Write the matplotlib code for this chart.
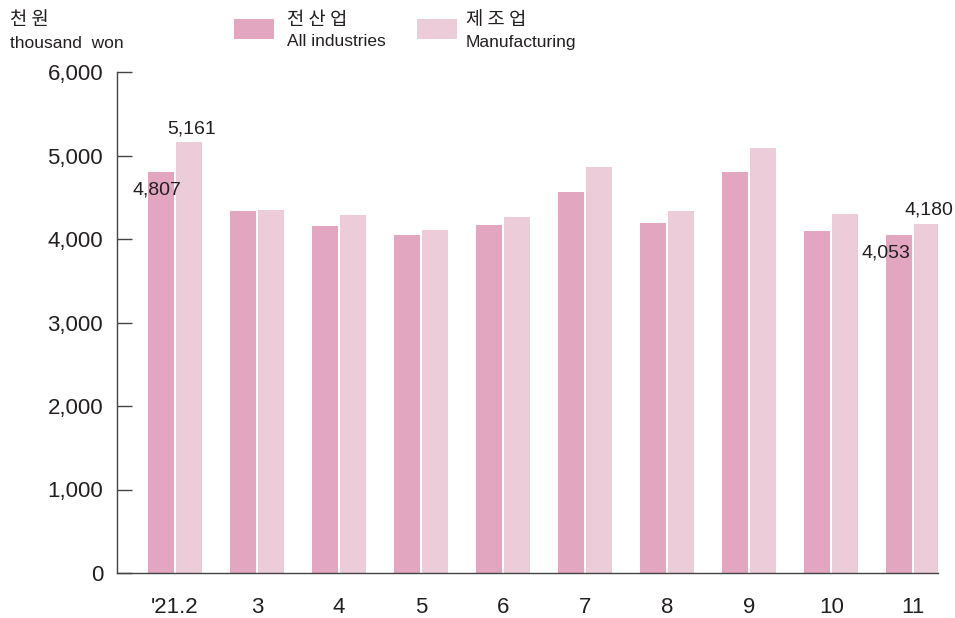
import numpy as np
import matplotlib.pyplot as plt
from matplotlib.patches import Rectangle
from matplotlib import font_manager

# 데이터
months = ["'21.2", "3", "4", "5", "6", "7", "8", "9", "10", "11"]
all_ind = [4807, 4335, 4156, 4048, 4168, 4563, 4192, 4802, 4096, 4053]
manuf = [5161, 4347, 4287, 4108, 4263, 4862, 4335, 5090, 4299, 4180]

c_all = "#E3A6C0"
c_man = "#EDCCD9"

names = {f.name for f in font_manager.fontManager.ttflist}
latin = "Liberation Sans Narrow" if "Liberation Sans Narrow" in names else "Liberation Sans"
plt.rcParams['font.family'] = [latin, 'Noto Sans CJK KR', 'DejaVu Sans']
txt = "#231F20"

fig = plt.figure(figsize=(9.55, 6.18), dpi=100)
ax = fig.add_axes([117/955, 1-573/618, (938-117)/955, (573-72)/618])

x = np.arange(len(months))
w = 0.317
off = 0.171
ax.bar(x - off, all_ind, w, color=c_all, linewidth=0)
ax.bar(x + off, manuf, w, color=c_man, linewidth=0)

ax.set_xlim(-0.707, 9.30)
ax.set_ylim(0, 6000)
ax.set_yticks(range(0, 6001, 1000))
ax.set_yticklabels([f"{v:,}" for v in range(0, 6001, 1000)], fontsize=16, color=txt)
ax.set_xticks(x)
ax.set_xticklabels(months, fontsize=16, color=txt)
ax.tick_params(axis='y', direction='in', length=11, width=1, color="#444444", pad=10)
ax.tick_params(axis='x', length=0, pad=17)
for s in ['top', 'right']:
    ax.spines[s].set_visible(False)
for s in ['left', 'bottom']:
    ax.spines[s].set_color("#444444")
    ax.spines[s].set_linewidth(1)

# 값 표시
ax.text(0.2, 5317, f"{manuf[0]:,}", ha='center', va='center', fontsize=14, color=txt)
ax.text(-0.22, 4587, f"{all_ind[0]:,}", ha='center', va='center', fontsize=14, color=txt)
ax.text(9.19, 4347, f"{manuf[9]:,}", ha='center', va='center', fontsize=14, color=txt)
ax.text(8.66, 3832, f"{all_ind[9]:,}", ha='center', va='center', fontsize=14, color=txt)

# 단위
fig.text(10/955, 1-19/618, "천 원", fontsize=13.5, color=txt, va='center', family=['Noto Sans CJK KR'])
fig.text(10/955, 1-44/618, "thousand  won", fontsize=12.5, color=txt, va='center')

# 범례
fig.patches.append(Rectangle((234/955, 1-39/618), 40/955, 20/618, transform=fig.transFigure, color=c_all, linewidth=0))
fig.patches.append(Rectangle((417/955, 1-39/618), 40/955, 20/618, transform=fig.transFigure, color=c_man, linewidth=0))
fig.text(287/955, 1-19/618, "전 산 업", fontsize=13.5, color=txt, va='center', family=['Noto Sans CJK KR'])
fig.text(287/955, 1-42/618, "All industries", fontsize=12.5, color=txt, va='center')
fig.text(466/955, 1-19/618, "제 조 업", fontsize=13.5, color=txt, va='center', family=['Noto Sans CJK KR'])
fig.text(466/955, 1-42/618, "Manufacturing", fontsize=12.5, color=txt, va='center')

fig.savefig("out.png", dpi=100)
